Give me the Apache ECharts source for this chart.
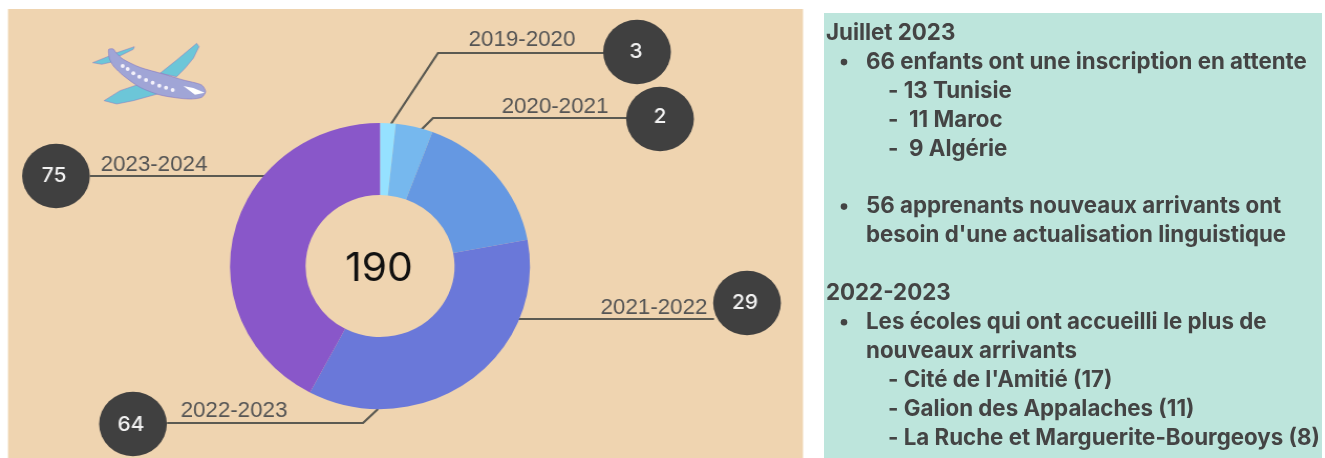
<!DOCTYPE html>
<html><head><meta charset="utf-8">
<style>
html,body{margin:0;padding:0;background:#fff;overflow:hidden}
#left{position:absolute;left:0;top:0;height:458px;transform-origin:0 0}
#right{position:absolute;left:820px;top:0;width:505px;height:458px}
</style>
<script src="https://cdn.jsdelivr.net/npm/echarts@6/dist/echarts.min.js"></script>
</head><body>
<div id="left"></div><div id="right"></div>
<script>
// ---- data ----
const years = ['2019-2020','2020-2021','2021-2022','2022-2023','2023-2024'];
const printedCounts = [3,2,29,64,75];           // numbers printed in the dark circles
const arcSizes = [3.2,7.6,31.1,67.8,80.3];      // slice sizes as drawn, in units of the printed total
const centerTotal = '190';
const notes = [
  ['h','Juillet 2023'],
  ['b','66 enfants ont une inscription en attente'],
  ['s','- 13 Tunisie'],
  ['s','-  11 Maroc'],
  ['s','-  9 Algérie'],
  ['gap',''],
  ['b','56 apprenants nouveaux arrivants ont'],
  ['c',"besoin d'une actualisation linguistique"],
  ['gap',''],
  ['h','2022-2023'],
  ['b','Les écoles qui ont accueilli le plus de'],
  ['c','nouveaux arrivants'],
  ['s',"- Cité de l'Amitié (17)"],
  ['s','- Galion des Appalaches (11)'],
  ['s','- La Ruche et Marguerite-Bourgeoys (8)']
];
// ---- layout & style ----
const SX = 1.049;
const X = p => p / SX;
const sliceColors = ['#95e1ff','#76b8ee','#6598e2','#6a78d9','#8957c9'];
const leaders = [
  {pts:[[391,124],[438,53],[604,53]], text:[522,40], circle:[637,52], num:[636,52]},
  {pts:[[419,132],[433,118],[627,118]], text:[555,107], circle:[660,119], num:[660,117]},
  {pts:[[518,319],[620,319],[714,319]], text:[654,308], circle:[747,303], num:[745,303]},
  {pts:[[378,409],[363,423],[167,423]], text:[234,411], circle:[133,424], num:[131,425]},
  {pts:[[266,176],[180,176],[90,176]], text:[154,165], circle:[56,176], num:[54,176]}
];
const leftEl = document.getElementById('left');
leftEl.style.width = (810 / SX) + 'px';
leftEl.style.transform = 'scaleX(' + SX + ')';

const wing = {fill:'#6cc6d8',stroke:'#8a78c4',lineWidth:1.5};
const planeChildren = [
  {type:'polygon',shape:{points:[[240,130],[290,90],[350,40],[357,50],[340,85],[315,115],[290,140]]},style:wing},
  {type:'polygon',shape:{points:[[170,165],[120,182],[72,212],[110,222],[160,212],[240,190]]},style:wing},
  {type:'polygon',shape:{points:[[38,98],[95,75],[105,70],[163,50],[160,58],[115,80],[100,95],[65,103]]},style:wing},
  {type:'polygon',shape:{smooth:0.25,points:[[86,58],[100,57],[108,68],[130,88],[180,112],[250,132],[310,150],[365,165],[377,185],[365,202],[335,207],[300,205],[240,195],[180,172],[130,137],[100,108],[88,85]]},style:{fill:'#a0a5d6',stroke:'#7d6cc0',lineWidth:1.5}},
  {type:'polygon',shape:{points:[[310,168],[340,174],[374,188],[345,194]]},style:{fill:'#fff'}}
].concat([[128,108],[143,117],[160,130],[178,140],[198,150],[218,158],[238,167],[258,173],[278,180]].map(c=>(
  {type:'circle',shape:{cx:c[0],cy:c[1],r:6},style:{fill:'#f4f2fb'}})));

const leftGraphic = [
  {type:'rect',z:-10,shape:{x:X(8),y:9,width:795/SX,height:449},style:{fill:'#efd4b0'}},
  {type:'group',z:5,x:X(80),y:30,scaleX:1/3/SX,scaleY:1/3,children:planeChildren}
];
leaders.forEach((l,i)=>{
  leftGraphic.push({type:'circle',z:10,shape:{cx:X(l.circle[0]),cy:l.circle[1],r:32.3},style:{fill:'#404040'}});
  leftGraphic.push({type:'text',z:11,x:X(l.num[0]),y:l.num[1],style:{
    text:String(printedCounts[i]),fill:'#f2f2f2',font:'500 20px Inter',align:'center',verticalAlign:'middle'}});
});
leftGraphic.push({type:'text',z:11,x:X(379),y:269,style:{text:centerTotal,fill:'#111',
  font:'400 39px Inter',align:'center',verticalAlign:'middle'}});

echarts.init(leftEl).setOption({
  animation:false,
  graphic:leftGraphic,
  series:[{
    type:'pie',startAngle:90,clockwise:true,center:[X(380),266],radius:[71,143],
    silent:true,avoidLabelOverlap:false,
    data:years.map((y,i)=>({name:y,value:arcSizes[i],itemStyle:{color:sliceColors[i]}})),
    label:{show:true,position:'outside',formatter:'{b}',color:'#555',fontFamily:'Liberation Sans',fontSize:21.3},
    labelLine:{show:true,smooth:false,lineStyle:{color:'#5b5a52',width:2.2}},
    labelLayout:p=>{
      const l=leaders[p.dataIndex];
      return {x:X(l.text[0]),y:l.text[1],align:'center',verticalAlign:'middle',
        labelLinePoints:l.pts.map(q=>[X(q[0]),q[1]])};
    }
  }]
});

// right panel
let y=33.2;
const g=[{type:'rect',z:-1,shape:{x:4,y:13,width:498,height:445},style:{fill:'#bde5dc'}}];
notes.forEach(n=>{
  const kind=n[0];
  if(kind!=='gap'){
    const tx=kind==='h'?6:kind==='s'?68:46;
    g.push({type:'text',x:tx,y:y,style:{text:n[1],fill:'#444',font:'700 22.3px Inter',verticalAlign:'middle'}});
    if(kind==='b')g.push({type:'circle',shape:{cx:24,cy:y,r:3.3},style:{fill:'#444'}});
  }
  y+=28.9;
});
echarts.init(document.getElementById('right')).setOption({animation:false,graphic:g});
</script>
</body></html>
